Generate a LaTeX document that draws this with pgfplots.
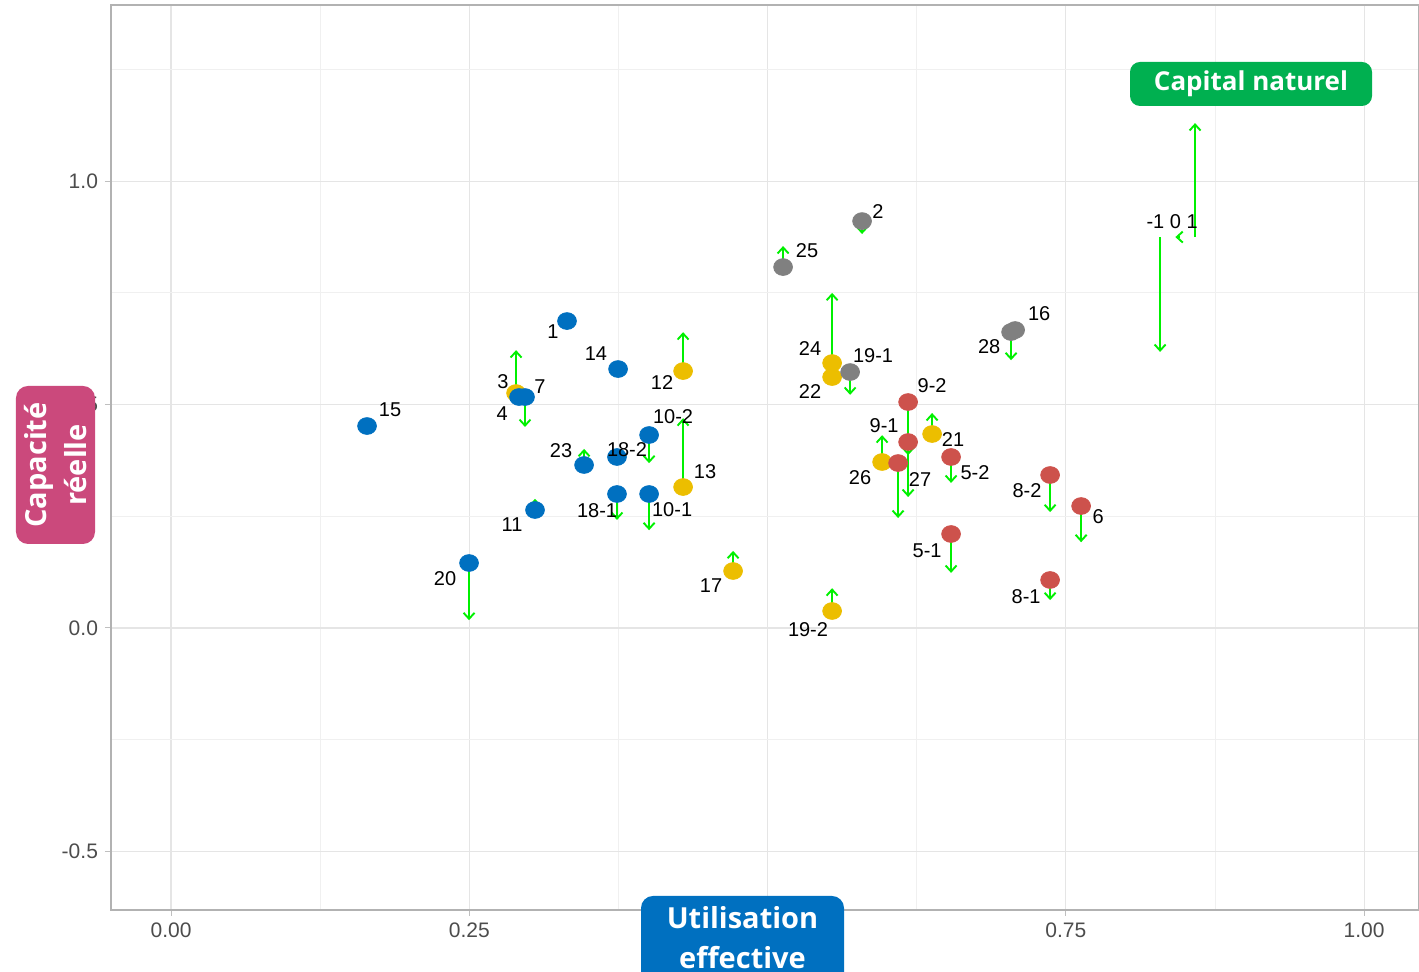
\documentclass[border=0pt]{standalone}
\usepackage{pgfplots}
\pgfplotsset{compat=1.18}
\usepackage{pgfplotstable}
\usepackage{fontspec}
\setmainfont{Liberation Sans}
\newfontfamily\boxfont{Open Sans}
\usetikzlibrary{arrows.meta}
\definecolor{ptblue}{RGB}{0,112,192}
\definecolor{ptyellow}{RGB}{236,190,0}
\definecolor{ptred}{RGB}{205,82,76}
\definecolor{ptgray}{RGB}{128,128,128}
\definecolor{arrgreen}{RGB}{0,240,0}
\definecolor{boxpink}{RGB}{203,73,124}
\definecolor{boxblue}{RGB}{0,112,192}
\definecolor{boxgreen}{RGB}{0,176,80}

\pgfplotstableread{
x y
0.1643 0.4519
0.3319 0.6868
0.3747 0.5794
0.2917 0.5168
0.2967 0.5168
0.3462 0.3647
0.3738 0.3826
0.4007 0.4318
0.3738 0.2998
0.4007 0.2998
0.3051 0.2640
0.2498 0.1454
}\blue

\pgfplotstableread{
x y
0.2892 0.5257
0.4292 0.5749
0.4292 0.3154
0.4711 0.1275
0.5541 0.0380
0.5541 0.5928
0.5541 0.5615
0.5960 0.3714
0.6379 0.4340
}\yellow

\pgfplotstableread{
x y
0.5792 0.9105
0.5130 0.8076
0.5692 0.5727
0.7075 0.6667
0.7041 0.6622
}\grey

\pgfplotstableread{
x y
0.6178 0.5056
0.6178 0.4161
0.6094 0.3691
0.6538 0.3826
0.6538 0.2103
0.7368 0.3423
0.7628 0.2729
0.7368 0.1074
}\red

\pgfplotstableread{
x y u v
0.1643 0.4519 0 0.011
0.3319 0.6868 0 -0.018
0.3747 0.5794 0 -0.016
0.2967 0.5168 0 -0.067
0.3462 0.3647 0 0.036
0.3738 0.3826 0 -0.013
0.4007 0.4318 0 -0.063
0.3738 0.2998 0 -0.058
0.4007 0.2998 0 -0.081
0.3051 0.2640 0 0.025
0.2498 0.1454 0 -0.128
0.2892 0.5257 0 0.096
0.4292 0.5749 0 0.087
0.4292 0.3154 0 0.154
0.4711 0.1275 0 0.045
0.5541 0.0380 0 0.051
0.5541 0.5928 0 0.157
0.5541 0.5615 0 0.049
0.5960 0.3714 0 0.060
0.6379 0.4340 0 0.047
0.5792 0.9105 0 -0.029
0.5130 0.8076 0 0.047
0.5692 0.5727 0 -0.051
0.7075 0.6667 0 0.018
0.7041 0.6622 0 -0.063
0.6178 0.5056 0 -0.119
0.6178 0.4161 0 -0.123
0.6094 0.3691 0 -0.123
0.6538 0.3826 0 -0.058
0.6538 0.2103 0 -0.087
0.7368 0.3423 0 -0.083
0.7628 0.2729 0 -0.081
0.7368 0.1074 0 -0.045
0.8583 0.8747 0 0.255
0.8290 0.8747 0 -0.257
0.8458 0.8747 -0.004 0
}\arrowtab

\pgfplotstableread[col sep=comma]{
x,y,lab
0.1836,0.4877,15
0.3202,0.6622,1
0.3562,0.6130,14
0.2783,0.5503,3
0.3093,0.5391,7
0.2775,0.4787,4
0.3269,0.3960,23
0.3822,0.3982,18-2
0.4208,0.4720,10-2
0.4476,0.3490,13
0.4116,0.5503,12
0.3571,0.2617,18-1
0.4200,0.2640,10-1
0.2858,0.2304,11
0.2297,0.1096,20
0.4526,0.0940,17
0.5339,-0.0045,19-2
0.5926,0.9329,2
0.5331,0.8434,25
0.5356,0.6264,24
0.5356,0.5280,22
0.5884,0.6085,19-1
0.7276,0.7025,16
0.6857,0.6286,28
0.6379,0.5414,9-2
0.5977,0.4519,9-1
0.6555,0.4206,21
0.5775,0.3356,26
0.6278,0.3311,27
0.6739,0.3468,5-2
0.7175,0.3065,8-2
0.7770,0.2483,6
0.6337,0.1723,5-1
0.7167,0.0694,8-1
0.8391,0.9083,-1 0 1
}\labtab

\begin{document}
\begin{tikzpicture}
\begin{axis}[
  at={(0,0)}, anchor=south west,
  scale only axis, width=654pt, height=452.5pt,
  xmin=-0.0503, xmax=1.046, ymin=-0.631, ymax=1.394,
  xtick={0,0.25,0.5,0.75,1}, xticklabels={0.00,0.25,0.50,0.75,1.00},
  ytick={-0.5,0,0.5,1}, yticklabels={-0.5,0.0,0.5,1.0},
  minor xtick={0.125,0.375,0.625,0.875},
  minor ytick={-0.25,0.25,0.75,1.25},
  grid=both,
  major grid style={color=black!10, line width=0.55pt},
  minor grid style={color=black!6, line width=0.45pt},
  axis line style={black!30, line width=0.7pt},
  xtick pos=left, ytick pos=left,
  tick align=outside, major tick length=3pt, minor tick length=0pt,
  tick style={black!25, line width=0.5pt},
  ticklabel style={font=\fontsize{10.5}{12}\selectfont, text=black!70},
  every node near coord/.append style={anchor=center, inner sep=0pt, font=\fontsize{10}{12}\selectfont, text=black},
]
\addplot[ptyellow, only marks, mark=*, mark size=4.2pt, mark options={draw=ptyellow, fill=ptyellow, xscale=1.12}] table {\yellow};
\addplot[ptblue, only marks, mark=*, mark size=4.2pt, mark options={draw=ptblue, fill=ptblue, xscale=1.12}] table {\blue};
\addplot[ptgray, only marks, mark=*, mark size=4.2pt, mark options={draw=ptgray, fill=ptgray, xscale=1.12}] table {\grey};
\addplot[ptred, only marks, mark=*, mark size=4.2pt, mark options={draw=ptred, fill=ptred, xscale=1.12}] table {\red};
\addplot[arrgreen, line width=0.95pt, quiver={u=\thisrow{u}, v=\thisrow{v}}, -{Straight Barb[length=3pt,width=5.5pt]}] table {\arrowtab};
\addplot[draw=none, mark=none, nodes near coords, point meta=explicit symbolic] table[x=x, y=y, meta=lab] {\labtab};
\end{axis}
% annotation boxes
\fill[boxpink, rounded corners=6pt] (-47.5pt,183pt) rectangle (-8pt,262pt);
\node[rotate=90, text=white, align=center, font=\boxfont\bfseries\fontsize{14.5}{20}\selectfont] at (-27.75pt,222.5pt) {Capacité\\réelle};
\fill[boxblue, rounded corners=6pt] (265pt,-62pt) rectangle (366.5pt,7pt);
\node[text=white, align=center, font=\boxfont\bfseries\fontsize{14.5}{20}\selectfont] at (315.75pt,-14pt) {Utilisation\\effective};
\fill[boxgreen, rounded corners=5pt] (509.5pt,402pt) rectangle (630.5pt,424pt);
\node[text=white, font=\boxfont\bfseries\fontsize{13}{16}\selectfont] at (570pt,413pt) {Capital naturel};
\pgfresetboundingbox
\useasboundingbox (-55.5pt,-31pt) rectangle (654pt,455pt);
\end{tikzpicture}
\end{document}
